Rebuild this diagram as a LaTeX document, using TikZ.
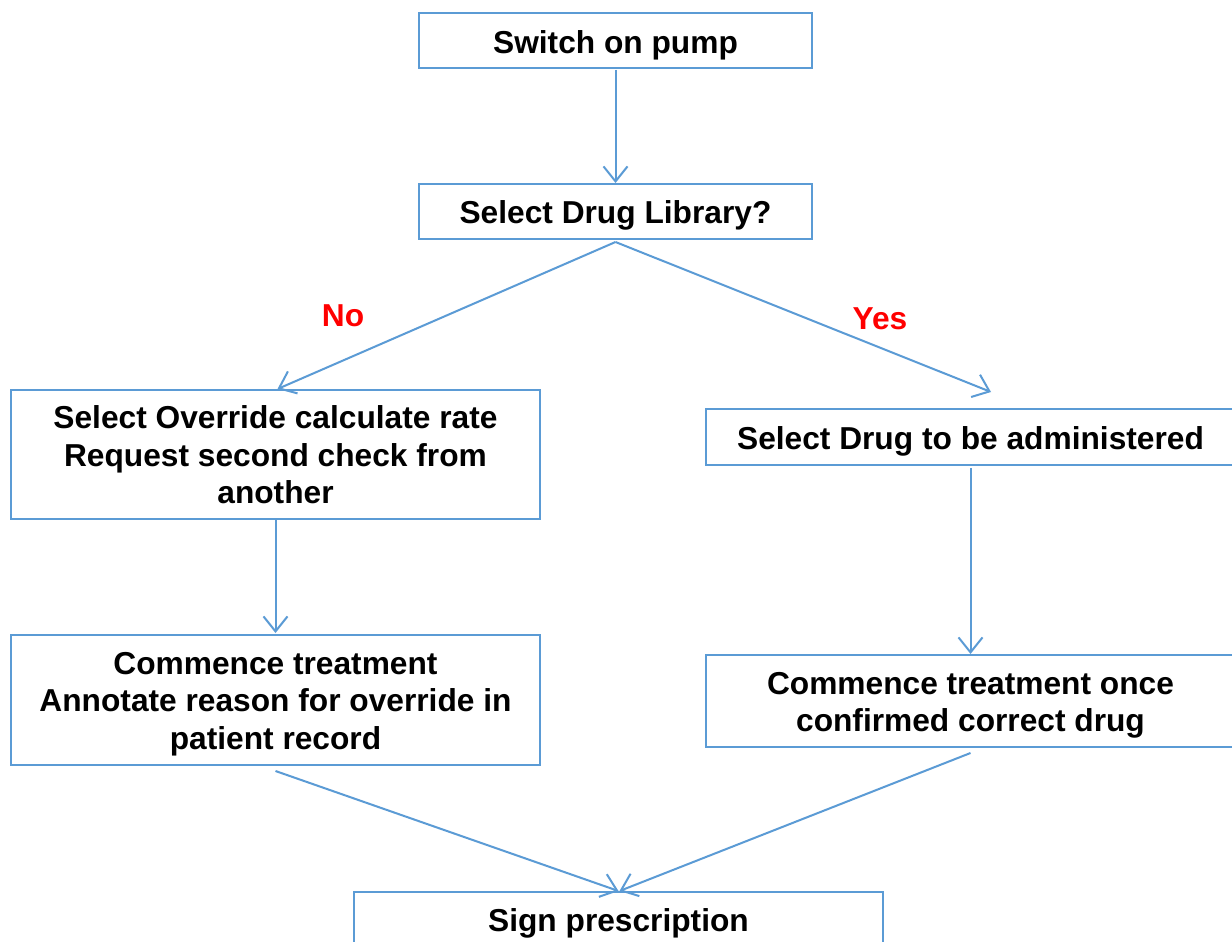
\documentclass[tikz,border=0pt]{standalone}
\usepackage{fontspec}
\setmainfont{Liberation Sans}
\usetikzlibrary{arrows.meta}
\definecolor{lineblue}{RGB}{91,155,213}
\tikzset{
  box/.style={draw=lineblue, line width=2pt, inner sep=0pt},
  txt/.style={align=center, inner sep=0pt,
    font=\bfseries\fontsize{31.7}{37.5}\selectfont},
  conn/.style={draw=lineblue, line width=2pt,
    -{Straight Barb[length=15pt,width=24pt,line width=2pt]}},
  lbl/.style={text=red, font=\bfseries\fontsize{31.7}{37.5}\selectfont}
}
\begin{document}
\begin{tikzpicture}[x=1pt,y=-1pt]
\useasboundingbox (0,0) rectangle (1232,942);
\clip (0,0) rectangle (1232,942);
\fill[white] (0,0) rectangle (1232,942);
\node[box, minimum width=393pt, minimum height=55pt] (n1) at (615.5,40.5) {};
\node[txt] (n1t) at (615.5,45.5) {Switch on pump};
\node[box, minimum width=393pt, minimum height=55pt] (n2) at (615.5,211.5) {};
\node[txt] (n2t) at (615.5,215.5) {Select Drug Library?};
\node[box, minimum width=529pt, minimum height=129pt] (l1) at (275.5,454.5) {};
\node[txt] (l1t) at (275.5,455) {Select Override calculate rate\\Request second check from\\another};
\node[box, minimum width=529pt, minimum height=56pt] (r1) at (970.5,437) {};
\node[txt] (r1t) at (970.5,441) {Select Drug to be administered};
\node[box, minimum width=529pt, minimum height=130pt] (l2) at (275.5,700) {};
\node[txt] (l2t) at (275.5,704) {Commence treatment\\Annotate reason for override in\\patient record};
\node[box, minimum width=529pt, minimum height=92pt] (r2) at (970.5,701) {};
\node[txt] (r2t) at (970.5,705.5) {Commence treatment once\\confirmed correct drug};
\node[box, minimum width=529pt, minimum height=56pt] (b) at (618.5,920) {};
\node[txt] (bt) at (618.5,923) {Sign prescription};
\node[lbl] (no) at (343,316) {No};
\node[lbl] (yes) at (880,319) {Yes};
\coordinate (ryes) at (991,392);
\draw[conn] ([yshift=-1pt]n1.south) -- (n2.north);
\draw[conn] ([yshift=-2pt]n2.south) -- ([xshift=2pt]l1.north);
\draw[conn] ([yshift=-2pt]n2.south) -- (ryes);
\draw[conn] (l1.south) -- ([yshift=1pt]l2.north);
\draw[conn] ([yshift=-2pt]r1.south) -- (r2.north);
\draw[conn] ([yshift=-5pt]l2.south) -- (b.north);
\draw[conn] ([yshift=-5pt]r2.south) -- ([xshift=1pt]b.north);
\end{tikzpicture}
\end{document}
